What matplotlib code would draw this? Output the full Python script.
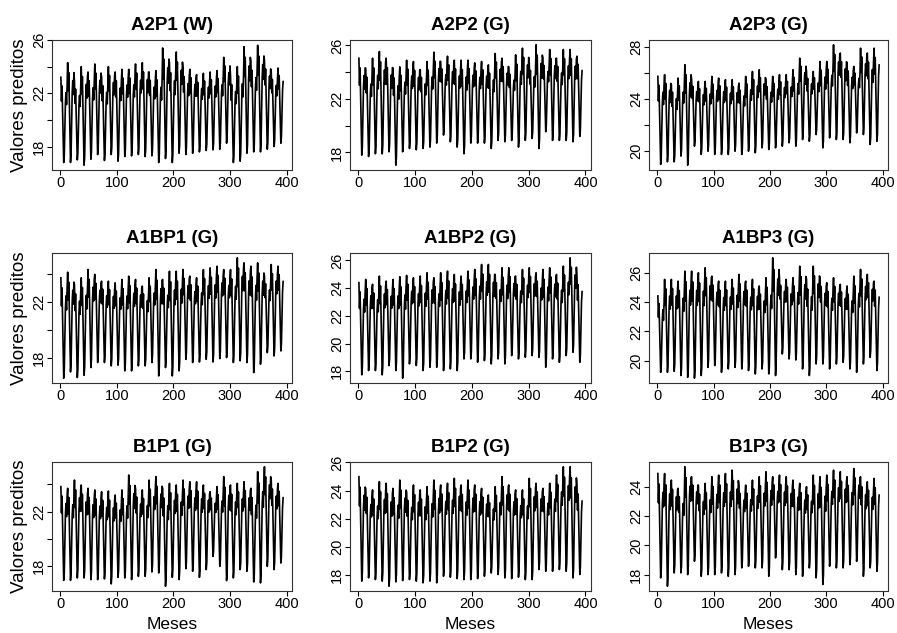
import numpy as np
import matplotlib
matplotlib.use("Agg")
import matplotlib.pyplot as plt

plt.rcParams['font.family'] = ['Liberation Sans', 'DejaVu Sans']

titles = ["A2P1 (W)", "A2P2 (G)", "A2P3 (G)",
          "A1BP1 (G)", "A1BP2 (G)", "A1BP3 (G)",
          "B1P1 (G)", "B1P2 (G)", "B1P3 (G)"]

n_months = 394
# typical monthly shape within a year (0 = yearly low, 1 = yearly high)
month_shape = [1.0, 0.72, 0.90, 0.60, 0.25, 0.0, 0.08, 0.42, 0.70, 0.82, 0.68, 0.90]

# yearly highs / lows
peaks_A2P1 = [23.2, 24.3, 22.9, 24.0, 23.6, 24.2, 23.2, 24.0, 23.6, 23.8, 23.8, 24.2, 24.3, 23.6, 23.7, 25.4, 24.3,
              25.1, 23.9, 23.8, 23.4, 23.5, 23.6, 23.7, 24.7, 23.3, 24.0, 25.5, 24.4, 25.6, 24.5, 23.6, 23.9]
lows_A2P1 = [16.8, 16.8, 17.0, 16.6, 17.05, 17.4, 16.95, 17.4, 16.9, 17.25, 17.3, 17.4, 17.25, 17.3, 16.8, 17.1, 16.8,
             17.5, 17.4, 17.5, 17.6, 17.7, 17.75, 17.8, 18.25, 16.8, 16.9, 17.5, 17.6, 17.6, 17.8, 18.0, 18.25]

peaks_A2P2 = [25.05, 24.3, 25.05, 25.55, 25.05, 24.3, 24.4, 24.9, 24.8, 24.2, 24.8, 25.5, 24.8, 25.2, 24.9, 24.9, 24.9,
              24.7, 24.8, 24.55, 25.4, 25.05, 24.4, 25.3, 25.8, 24.7, 26.05, 25.05, 25.7, 25.05, 25.7, 25.7, 25.2]
lows_A2P2 = [17.8, 17.7, 17.9, 17.9, 18.05, 17.05, 18.05, 18.3, 18.2, 18.3, 18.4, 18.7, 19.3, 18.8, 18.4, 17.9, 18.7,
             18.7, 18.7, 18.3, 18.9, 18.8, 18.9, 18.4, 18.9, 19.05, 18.3, 19.55, 18.9, 18.9, 18.9, 18.8, 19.2]

peaks_A2P3 = [25.74, 25.87, 25.10, 25.61, 26.64, 25.48, 25.35, 25.35, 25.74, 25.61, 25.48, 25.48, 25.22, 25.74, 26.12,
              26.25, 25.48, 25.74, 25.87, 25.87, 26.25, 27.15, 26.12, 26.12, 26.89, 26.89, 28.18, 27.54, 26.77, 26.51,
              27.92, 27.54, 27.92]
lows_A2P3 = [18.93, 19.13, 19.13, 19.57, 18.87, 20.34, 19.70, 19.95, 19.70, 19.70, 19.70, 19.95, 19.70, 19.95, 19.83,
             20.21, 20.08, 20.21, 20.34, 20.60, 20.34, 20.85, 20.72, 21.24, 20.21, 20.98, 20.85, 20.85, 20.60, 21.37,
             21.24, 20.47, 20.72]

peaks_A1BP1 = [23.74, 24.14, 23.26, 23.74, 24.33, 23.98, 23.5, 23.5, 23.38, 23.62, 23.86, 23.62, 23.14, 23.74, 24.33,
               23.62, 24.21, 24.21, 24.33, 23.86, 23.74, 24.33, 24.45, 24.57, 24.33, 24.33, 25.17, 24.81, 24.57, 24.81,
               23.86, 24.69, 24.57]
lows_A1BP1 = [16.55, 17.0, 16.6, 16.76, 17.31, 17.67, 17.67, 17.43, 17.48, 17.07, 17.07, 17.43, 17.43, 17.67, 16.71,
              17.31, 16.71, 17.07, 17.9, 17.67, 17.71, 17.9, 17.71, 17.95, 18.02, 17.67, 17.79, 17.67, 16.95, 17.55,
              18.38, 18.14, 18.5]

peaks_A1BP2 = [24.4, 24.63, 24.28, 24.87, 24.51, 24.63, 24.83, 24.92, 24.75, 24.87, 25.11, 24.75, 25.11, 25.23, 24.99,
               24.87, 25.23, 25.35, 25.71, 25.71, 24.99, 25.47, 25.47, 24.87, 25.35, 25.47, 25.11, 25.35, 25.47, 24.99,
               25.59, 26.19, 24.87]
lows_A1BP2 = [17.74, 18.05, 18.05, 17.74, 18.41, 18.05, 17.5, 18.53, 18.41, 18.05, 18.29, 18.29, 18.05, 18.17, 18.05,
              18.89, 18.89, 18.65, 18.77, 18.53, 18.89, 18.53, 19.13, 18.89, 19.01, 19.13, 19.01, 18.29, 18.89, 18.65,
              19.13, 19.37, 18.65]

peaks_A1BP3 = [24.42, 25.55, 25.55, 25.43, 26.11, 26.11, 26.0, 26.34, 25.77, 25.43, 25.43, 25.55, 25.89, 25.43, 25.55,
               25.1, 25.66, 27.02, 25.66, 25.55, 25.66, 26.45, 25.55, 26.45, 25.66, 25.32, 25.66, 25.21, 25.1, 25.77,
               26.23, 25.89, 25.43]
lows_A1BP3 = [19.21, 19.21, 19.28, 18.99, 18.87, 18.81, 18.99, 19.55, 19.67, 19.21, 19.44, 19.55, 19.44, 19.33, 19.1,
              19.44, 19.1, 18.99, 20.46, 20.12, 20.05, 19.44, 18.99, 19.78, 19.78, 19.44, 19.78, 19.89, 19.44, 19.21,
              19.78, 20.23, 19.33]

peaks_B1P1 = [23.82, 23.7, 24.3, 23.94, 23.7, 23.58, 23.45, 23.5, 23.21, 23.58, 24.67, 23.7, 23.58, 24.3, 24.55, 23.7,
              24.06, 23.94, 24.3, 24.18, 24.18, 23.94, 23.45, 23.82, 24.55, 23.94, 24.06, 24.18, 23.7, 24.91, 25.27,
              24.3, 24.06]
lows_B1P1 = [16.98, 16.98, 17.15, 17.15, 17.03, 17.03, 17.08, 16.72, 17.2, 17.15, 17.03, 17.27, 17.27, 17.59, 17.52,
             16.55, 17.2, 17.03, 17.83, 17.64, 17.2, 17.76, 18.73, 18.0, 16.96, 17.15, 17.76, 17.64, 16.86, 16.79, 18.0,
             17.76, 18.24]

peaks_B1P2 = [24.99, 24.16, 24.05, 24.64, 24.52, 24.16, 24.75, 23.93, 24.4, 24.05, 24.28, 24.75, 24.4, 24.52, 24.87,
              24.4, 24.75, 24.4, 24.16, 23.69, 24.28, 24.99, 24.4, 24.05, 24.05, 24.87, 24.52, 24.16, 24.52, 25.11,
              25.69, 25.69, 24.4]
lows_B1P2 = [17.58, 17.81, 17.69, 17.58, 17.22, 17.53, 17.62, 17.69, 17.58, 17.46, 17.58, 17.46, 17.93, 17.86, 17.76,
             17.69, 17.69, 17.76, 17.93, 18.16, 18.05, 17.81, 17.76, 17.86, 17.69, 17.69, 18.4, 18.28, 18.28, 18.4,
             18.28, 17.81, 18.05]

peaks_B1P3 = [24.9, 24.9, 24.45, 23.89, 25.36, 24.68, 24.11, 24.23, 24.68, 24.79, 24.9, 25.13, 24.11, 24.11, 24.45,
              24.68, 25.02, 24.68, 24.79, 24.68, 24.45, 24.23, 24.0, 24.79, 24.68, 24.79, 25.13, 25.02, 24.68, 25.24,
              24.68, 24.34, 24.57]
lows_B1P3 = [17.78, 17.21, 18.12, 18.12, 18.0, 18.91, 17.89, 18.0, 18.0, 18.12, 17.89, 18.0, 18.46, 18.57, 18.46,
             18.46, 17.89, 19.14, 18.34, 18.34, 18.0, 17.89, 18.46, 17.78, 17.33, 18.57, 18.46, 18.46, 18.68, 18.91,
             17.89, 18.46, 18.23]

peaks = [peaks_A2P1, peaks_A2P2, peaks_A2P3, peaks_A1BP1, peaks_A1BP2, peaks_A1BP3, peaks_B1P1, peaks_B1P2, peaks_B1P3]
lows = [lows_A2P1, lows_A2P2, lows_A2P3, lows_A1BP1, lows_A1BP2, lows_A1BP3, lows_B1P1, lows_B1P2, lows_B1P3]

yticks = [[18, 20, 22, 24, 26], [18, 20, 22, 24, 26], [20, 22, 24, 26, 28],
          [18, 20, 22, 24], [18, 20, 22, 24, 26], [20, 22, 24, 26],
          [18, 20, 22, 24], [18, 20, 22, 24, 26], [18, 20, 22, 24]]
ytick_labels = [["18", "", "22", "", "26"], ["18", "", "22", "", "26"], ["20", "", "24", "", "28"],
                ["18", "", "22", ""], ["18", "20", "22", "24", "26"], ["20", "22", "24", "26"],
                ["18", "", "22", ""], ["18", "20", "22", "24", "26"], ["18", "20", "22", "24"]]
xticks = [0, 100, 200, 300, 400]

W, H = 897, 633
fig = plt.figure(figsize=(W / 100, H / 100), dpi=100)
cols_px = [(52, 292), (350, 591), (649, 888)]
rows_px = [(40, 170), (253, 383), (462, 591)]

shape = np.array(month_shape)
months = np.arange(1, n_months + 1)
for i in range(9):
    r, c = divmod(i, 3)
    x0, x1 = cols_px[c]
    y0, y1 = rows_px[r]
    ax = fig.add_axes([x0 / W, 1 - y1 / H, (x1 - x0) / W, (y1 - y0) / H])
    pk = np.array(peaks[i])
    lo = np.array(lows[i])
    yr = (months - 1) // 12
    mo = (months - 1) % 12
    y = lo[yr] + shape[mo] * (pk[yr] - lo[yr])
    ax.plot(months, y, color='black', lw=1.2)
    span = n_months - 1
    ax.set_xlim(1 - 0.04 * span, n_months + 0.04 * span)
    yspan = y.max() - y.min()
    ax.set_ylim(y.min() - 0.04 * yspan, y.max() + 0.04 * yspan)
    ax.set_xticks(xticks)
    ax.set_xticklabels([str(t) for t in xticks], fontsize=10.5)
    ax.set_yticks(yticks[i])
    ax.set_yticklabels(ytick_labels[i], fontsize=10.5, rotation=90, va='center')
    ax.tick_params(axis='both', direction='out', length=3.5, width=0.8, color='black', pad=0.8)
    for s in ax.spines.values():
        s.set_linewidth(0.8)
        s.set_color('#333333')
    ax.set_title(titles[i], fontsize=13.5, fontweight='bold', pad=7)
    if c == 0:
        fig.text(20 / W, 1 - ((y0 + y1) / 2) / H, "Valores preditos", rotation=90,
                 ha='center', va='center', fontsize=13.5)
    if r == 2:
        fig.text(((x0 + x1) / 2) / W, 1 - 629 / H, "Meses", ha='center', va='baseline', fontsize=12.5)

fig.savefig("out.png", dpi=100)
